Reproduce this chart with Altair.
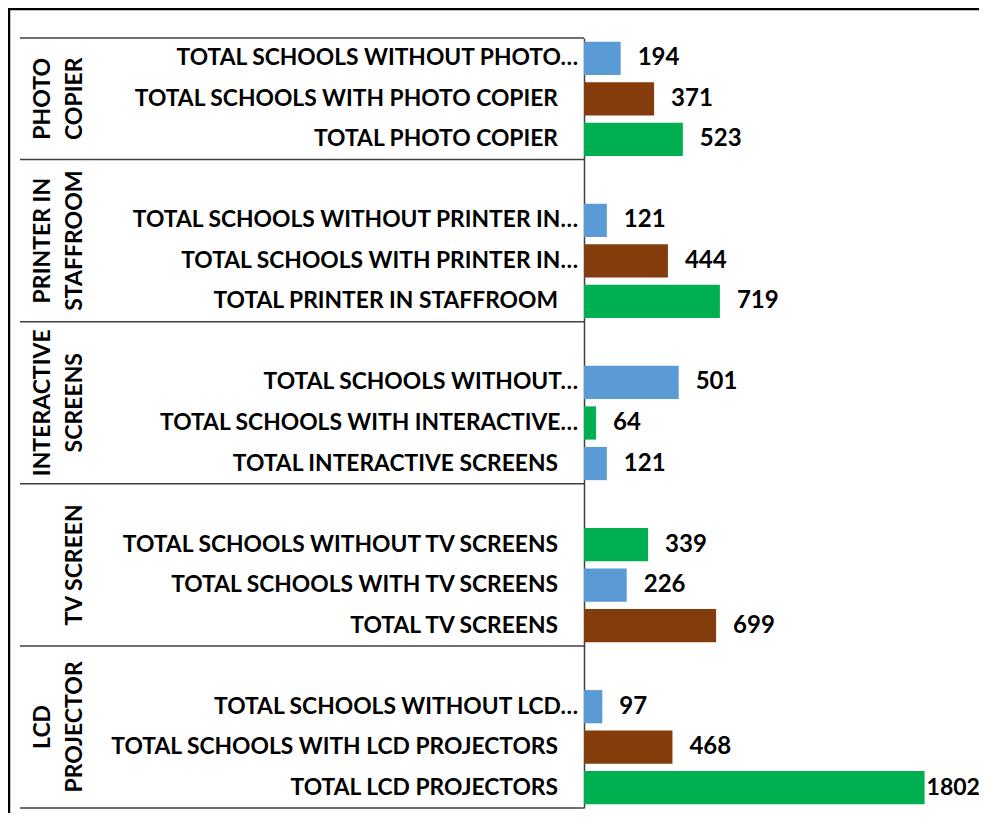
import altair as alt
import pandas as pd

# ---------------- data ----------------
groups = ["PHOTO\nCOPIER", "PRINTER IN\nSTAFFROOM", "INTERACTIVE\nSCREENS", "TV SCREEN", "LCD\nPROJECTOR"]
group_rows = [3, 4, 4, 4, 4]  # category slots per group (incl. an empty slot)

categories = [
    "TOTAL SCHOOLS WITHOUT PHOTO…",
    "TOTAL SCHOOLS WITH PHOTO COPIER",
    "TOTAL PHOTO COPIER",
    "TOTAL SCHOOLS WITHOUT PRINTER IN…",
    "TOTAL SCHOOLS WITH PRINTER IN…",
    "TOTAL PRINTER IN STAFFROOM",
    "TOTAL SCHOOLS WITHOUT…",
    "TOTAL SCHOOLS WITH INTERACTIVE…",
    "TOTAL INTERACTIVE SCREENS",
    "TOTAL SCHOOLS WITHOUT TV SCREENS",
    "TOTAL SCHOOLS WITH TV SCREENS",
    "TOTAL TV SCREENS",
    "TOTAL SCHOOLS WITHOUT LCD…",
    "TOTAL SCHOOLS WITH LCD PROJECTORS",
    "TOTAL LCD PROJECTORS",
]
values = [194, 371, 523, 121, 444, 719, 501, 64, 121, 339, 226, 699, 97, 468, 1802]

BLUE, BROWN, GREEN = "#5B9BD5", "#843C0C", "#00B050"
bar_colors = [
    BLUE, BROWN, GREEN,
    BLUE, BROWN, GREEN,
    BLUE, GREEN, BLUE,
    GREEN, BLUE, BROWN,
    BLUE, BROWN, GREEN,
]

# ---------------- layout of category slots ----------------
rows, group_of, centers, bounds = [], [], [], [0]
start = 0
for g, n in zip(groups, group_rows):
    centers.append(start + n / 2)
    for k in range(3):
        rows.append(start + n - 3 + k)
        group_of.append(g)
    start += n
    bounds.append(start)
total_rows = start

df = pd.DataFrame({"category": categories, "value": values, "color": bar_colors,
                   "row": rows, "group": group_of})
gdf = pd.DataFrame({"group": groups, "center": centers})
bdf = pd.DataFrame({"b": bounds})
frame_df = pd.DataFrame({"k": [0]})

FONT = "Lato"
yscale = alt.Scale(domain=[0, total_rows], reverse=True, nice=False, zero=False)
xscale = alt.Scale(domain=[0, 2000], nice=False)

yaxis = alt.Axis(labels=False, ticks=False, grid=False, title=None,
                 domainColor="#404040", domainWidth=1.5)

base = alt.Chart(df).transform_calculate(
    y0="datum.row + 0.09", y1="datum.row + 0.91", yc="datum.row + 0.5"
)

bars = base.mark_bar().encode(
    x=alt.X("value:Q", scale=xscale, axis=None),
    x2=alt.datum(0),
    y=alt.Y("y0:Q", scale=yscale, axis=yaxis),
    y2="y1:Q",
    color=alt.Color("color:N", scale=None),
)

values_text = base.mark_text(
    align="left", baseline="middle",
    dx=alt.expr("datum.value > 1500 ? 2 : 17"),
    fontSize=alt.expr("datum.value > 1500 ? 23 : 24"),
    font=FONT, fontWeight="bold", color="black",
).encode(
    x=alt.X("value:Q", scale=xscale, axis=None),
    y=alt.Y("yc:Q", scale=yscale, axis=yaxis),
    text=alt.Text("value:Q"),
)

cat_text = base.mark_text(
    align="right", baseline="middle",
    dx=alt.expr("indexof(datum.category, '…') >= 0 ? 0 : -20"),
    font=FONT, fontSize=22.8, fontWeight="bold", color="black",
).encode(
    x=alt.value(-6),
    y=alt.Y("yc:Q", scale=yscale, axis=yaxis),
    text="category:N",
)

seps = alt.Chart(bdf).mark_rule(color="#404040", strokeWidth=1.5).encode(
    y=alt.Y("b:Q", scale=yscale, axis=yaxis),
    x=alt.value(-564), x2=alt.value(0),
)

glabels = alt.Chart(gdf).mark_text(
    angle=270, align="center", baseline="bottom", lineBreak="\n", lineHeight=32,
    dy=alt.expr("indexof(datum.group, '\\n') >= 0 ? -32 : 0"),
    font=FONT, fontSize=23, fontWeight="bold", color="black",
).encode(
    y=alt.Y("center:Q", scale=yscale, axis=yaxis),
    x=alt.value(-497),
    text="group:N",
)

frame = alt.Chart(frame_df).mark_rect(filled=False, stroke="black", strokeWidth=2.5).encode(
    x=alt.value(-575), x2=alt.value(1200), y=alt.value(-29), y2=alt.value(1200),
)

chart = alt.layer(seps, bars, values_text, cat_text, glabels, frame).properties(
    width=378, height=770,
    padding={"left": 576, "top": 30, "right": 17, "bottom": 5},
    autosize=alt.AutoSizeParams(type="none"),
).configure_view(stroke=None)

chart.save("out.html", embed_options={"renderer": "svg", "actions": False})
